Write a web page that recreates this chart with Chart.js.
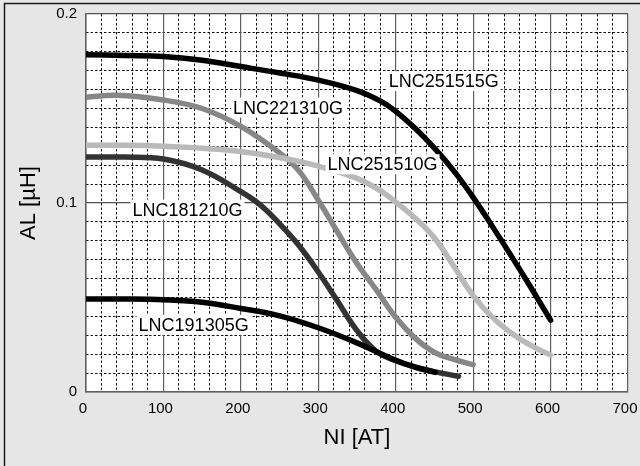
<!DOCTYPE html>
<html>
<head>
<meta charset="UTF-8" />
<title>AL vs NI</title>
<script src="https://cdn.jsdelivr.net/npm/chart.js@4.4.0/dist/chart.umd.min.js"></script>
<style>
    body { margin: 0; background-color: #e6e6e6; }
    canvas { display: block; }
</style>
</head>
<body>
<canvas id="alChart" width="640" height="466"></canvas>
<script>
    // NI [AT] and AL [uH]
    var ni251515 = [0, 50, 100, 150, 200, 250, 300, 350, 380, 400, 425, 450, 475, 500, 525, 550, 575, 600];
    var al251515 = [0.1785, 0.178, 0.1775, 0.1755, 0.1722, 0.1688, 0.165, 0.1595, 0.154, 0.1485, 0.1395, 0.129, 0.117, 0.103, 0.0875, 0.0715, 0.055, 0.038];

    var ni221310 = [0, 40, 100, 150, 200, 250, 275, 300, 325, 350, 375, 400, 425, 450, 475, 500];
    var al221310 = [0.156, 0.157, 0.1545, 0.150, 0.1405, 0.1265, 0.117, 0.1015, 0.0845, 0.068, 0.054, 0.0395, 0.0285, 0.021, 0.0172, 0.0145];

    var ni251510 = [0, 50, 100, 150, 200, 250, 300, 350, 380, 400, 425, 450, 475, 500, 525, 550, 575, 600];
    var al251510 = [0.1305, 0.1305, 0.130, 0.129, 0.1273, 0.124, 0.1195, 0.113, 0.1065, 0.1005, 0.092, 0.0815, 0.0665, 0.051, 0.0395, 0.031, 0.0245, 0.0195];

    var ni181210 = [0, 50, 100, 150, 200, 225, 250, 275, 300, 325, 350, 375, 400, 425, 450, 481];
    var al181210 = [0.1243, 0.1243, 0.1233, 0.1175, 0.106, 0.099, 0.089, 0.0775, 0.0635, 0.048, 0.0325, 0.0215, 0.0165, 0.0132, 0.0108, 0.0083];

    var ni191305 = [0, 50, 100, 150, 200, 250, 300, 350, 400, 425, 451];
    var al191305 = [0.0492, 0.0492, 0.0488, 0.0475, 0.0442, 0.0403, 0.034, 0.026, 0.0168, 0.0132, 0.0104];

    var seriesNames = ['LNC191305G', 'LNC181210G', 'LNC251510G', 'LNC221310G', 'LNC251515G'];
    var seriesNI = [ni191305, ni181210, ni251510, ni221310, ni251515];
    var seriesAL = [al191305, al181210, al251510, al221310, al251515];
    var seriesColors = ['#000000', '#333333', '#b9b9b9', '#878787', '#000000'];

    // where each curve's name sits (NI, AL of the label centre)
    var labelNames = ['LNC251515G', 'LNC221310G', 'LNC251510G', 'LNC181210G', 'LNC191305G'];
    var labelNI = [462, 261, 383, 131, 139];
    var labelAL = [0.1645, 0.1505, 0.1205, 0.0965, 0.0355];

    var xTicks = [0, 100, 200, 300, 400, 500, 600, 700];
    var yTicks = [0, 0.1, 0.2];

    var fontFamily = "'Liberation Sans', Arial, sans-serif";
    Chart.defaults.font.family = fontFamily;
    Chart.defaults.color = '#000';

    var datasets = [];
    for (let i = 0; i < seriesNames.length; i++) {
        let pts = [];
        for (let j = 0; j < seriesNI[i].length; j++) {
            pts.push({ x: seriesNI[i][j], y: seriesAL[i][j] });
        }
        datasets.push({
            label: seriesNames[i],
            data: pts,
            xAxisID: 'x',
            yAxisID: 'y',
            borderColor: seriesColors[i],
            borderWidth: 5.5,
            borderCapStyle: 'round',
            borderJoinStyle: 'round',
            tension: 0.4,
            pointRadius: 0,
            fill: false
        });
    }

    var backdrop = {
        id: 'backdrop',
        beforeDraw: function (chart) {
            let ctx = chart.ctx, a = chart.chartArea;
            ctx.save();
            ctx.fillStyle = '#e6e6e6';
            ctx.fillRect(0, 0, chart.width, chart.height);
            ctx.fillStyle = '#ffffff';
            ctx.fillRect(a.left, a.top, a.right - a.left, a.bottom - a.top);
            ctx.strokeStyle = '#1a1a1a';
            ctx.lineWidth = 1.5;
            ctx.beginPath();
            ctx.moveTo(4.5, chart.height);
            ctx.lineTo(4.5, 3.5);
            ctx.lineTo(chart.width, 3.5);
            ctx.stroke();
            ctx.restore();
        }
    };

    var curveLabels = {
        id: 'curveLabels',
        afterDatasetsDraw: function (chart) {
            let ctx = chart.ctx;
            let xs = chart.scales.x, ys = chart.scales.y;
            ctx.save();
            ctx.font = '18px ' + fontFamily;
            ctx.textAlign = 'center';
            ctx.textBaseline = 'middle';
            for (let i = 0; i < labelNames.length; i++) {
                let px = xs.getPixelForValue(labelNI[i]);
                let py = ys.getPixelForValue(labelAL[i]);
                let w = ctx.measureText(labelNames[i]).width;
                ctx.fillStyle = '#ffffff';
                ctx.fillRect(px - w / 2 - 2, py - 10, w + 4, 20);
                ctx.fillStyle = '#000000';
                ctx.fillText(labelNames[i], px, py + 1);
            }
            ctx.restore();
        }
    };

    function isMajor(v, step) {
        let r = v / step;
        return Math.abs(r - Math.round(r)) < 1e-6;
    }

    var alChart = new Chart('alChart', {
        type: 'line',
        data: { datasets: datasets },
        plugins: [backdrop, curveLabels],
        options: {
            responsive: false,
            animation: false,
            layout: { padding: { left: 0, right: 12, top: 14, bottom: 0 } },
            plugins: { legend: { display: false }, tooltip: { enabled: false } },
            scales: {
                xMinor: {
                    type: 'linear', position: 'bottom', min: 0, max: 700,
                    ticks: { stepSize: 20, display: false },
                    grid: {
                        drawTicks: false, lineWidth: 1,
                        color: function (c) { return c.tick && isMajor(c.tick.value, 100) ? 'rgba(0,0,0,0)' : '#111'; }
                    },
                    border: { display: false, dash: [2.5, 2] },
                    afterFit: function (s) { s.height = 0; s.paddingLeft = 0; s.paddingRight = 0; }
                },
                yMinor: {
                    type: 'linear', position: 'left', min: 0, max: 0.2,
                    ticks: { stepSize: 0.01, display: false },
                    grid: {
                        drawTicks: false, lineWidth: 1,
                        color: function (c) { return c.tick && isMajor(c.tick.value, 0.1) ? 'rgba(0,0,0,0)' : '#111'; }
                    },
                    border: { display: false, dash: [2.5, 2] },
                    afterFit: function (s) { s.width = 0; s.paddingTop = 0; s.paddingBottom = 0; }
                },
                x: {
                    type: 'linear', position: 'bottom', min: 0, max: 700,
                    afterBuildTicks: function (s) { s.ticks = xTicks.map(function (v) { return { value: v }; }); },
                    ticks: { font: { size: 15 }, color: '#000', padding: 8, labelOffset: -3, maxRotation: 0 },
                    grid: { drawTicks: false, color: '#606060', lineWidth: 1.2 },
                    border: { color: '#606060', width: 1.5 },
                    title: { display: true, text: 'NI [AT]', font: { size: 22 }, color: '#000', padding: { top: 0, bottom: 15 } },
                    afterFit: function (s) { s.height = 74; s.paddingLeft = 0; s.paddingRight = 0; }
                },
                y: {
                    type: 'linear', position: 'left', min: 0, max: 0.2,
                    afterBuildTicks: function (s) { s.ticks = yTicks.map(function (v) { return { value: v }; }); },
                    ticks: {
                        font: { size: 15 }, color: '#000', padding: 9,
                        callback: function (v) { return String(Math.round(v * 10) / 10); }
                    },
                    grid: { drawTicks: false, color: '#505050', lineWidth: 1.2 },
                    border: { color: '#606060', width: 1.5 },
                    title: { display: true, text: 'AL [µH]', font: { size: 22 }, color: '#000', padding: { top: 16, bottom: 0 } },
                    afterFit: function (s) { s.width = 86; s.paddingTop = 0; s.paddingBottom = 0; }
                }
            }
        }
    });
</script>
</body>
</html>
